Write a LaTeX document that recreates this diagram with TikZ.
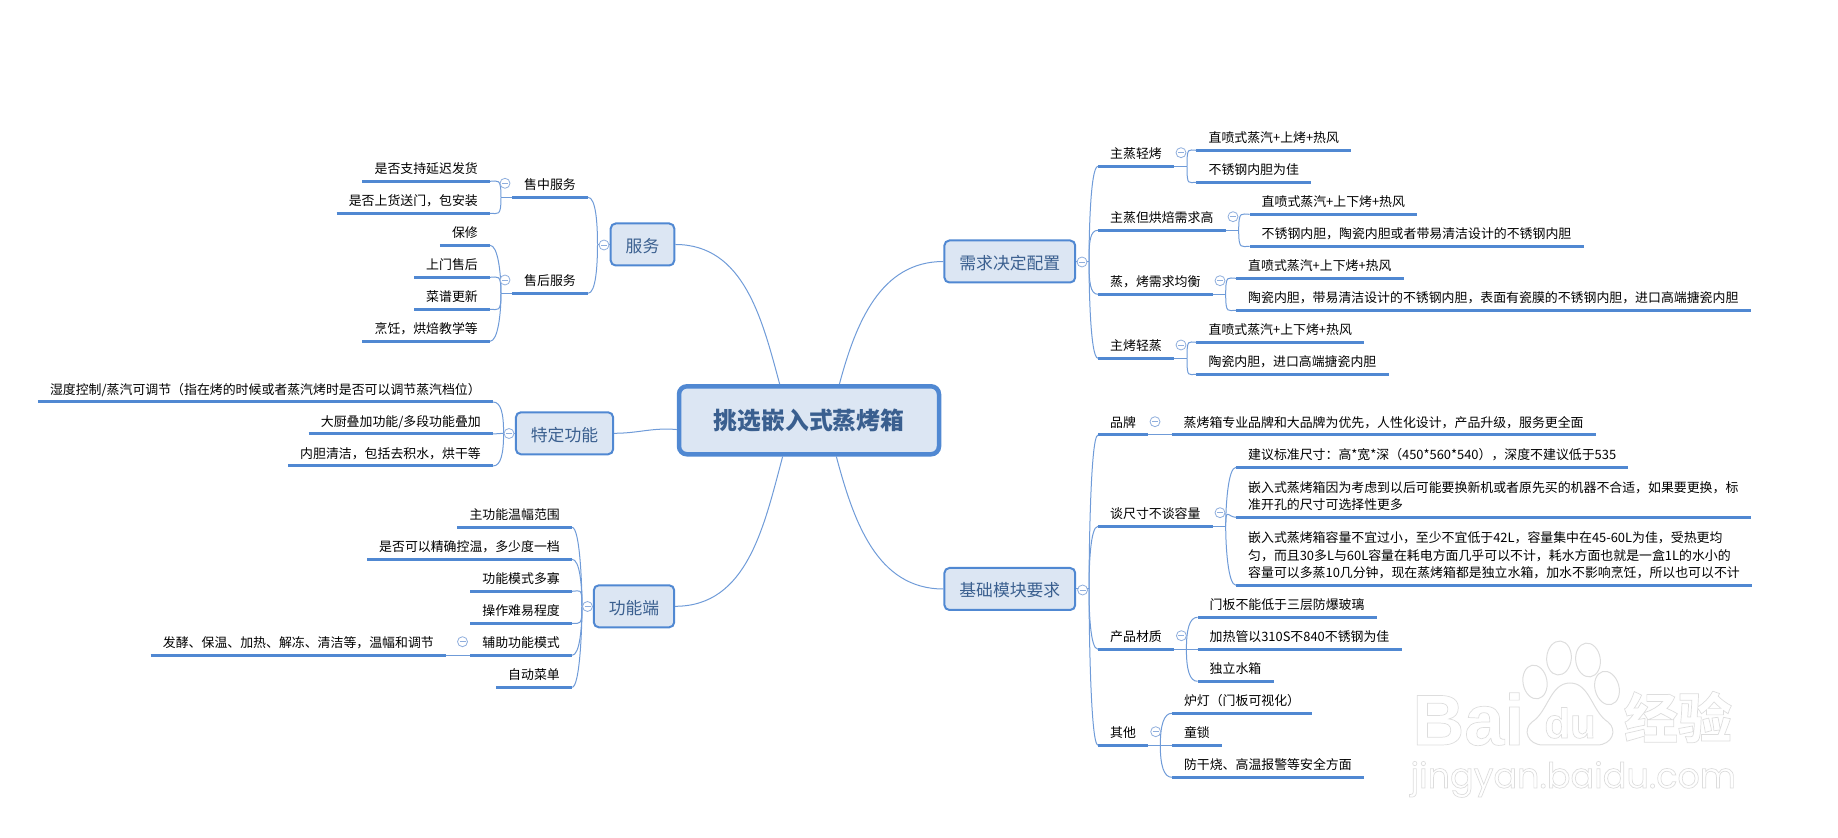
\documentclass[tikz,border=0pt]{standalone}
\usepackage{fontspec}
\setmainfont{Noto Sans CJK SC}
\newfontfamily\wmlatin{Liberation Sans}
\newfontfamily\wmround{Poppins}
\usepackage{xcolor}
\usepackage{tikz}
\definecolor{mapblue}{HTML}{5088D2}
\definecolor{maplink}{HTML}{6F9BD8}
\definecolor{mapfill}{HTML}{DCE6F3}
\definecolor{mapink}{HTML}{3A5F8F}
\definecolor{mapfold}{HTML}{8FAEDD}
\definecolor{mapwm}{HTML}{DDDDDD}

\begin{document}
\begin{tikzpicture}[x=0.5pt,y=0.5pt,
        under/.style={draw=mapblue,line width=1.5pt},
        topic/.style={font=\fontsize{6.45}{8.8}\selectfont,text=black,inner xsep=5.9pt,inner ysep=0.9pt,
            execute at begin node=\strut,
            append after command={(\tikzlastnode.south west) edge[under] (\tikzlastnode.south east)}},
        lft/.style={topic,anchor=south east},
        rgt/.style={topic,anchor=south west,align=left},
        bigbox/.style={draw=mapblue,line width=1pt,fill=mapfill,rounded corners=2.5pt,text=mapink,
            font=\fontsize{8.4}{10}\selectfont,minimum height=21pt,inner xsep=7.5pt,inner ysep=0pt,
            text height=9.2pt,text depth=1.3pt},
        fold/.style={circle,draw=mapfold,line width=0.4pt,fill=white,minimum size=5pt,inner sep=0pt,
            path picture={\draw[mapfold,line width=0.4pt] ([xshift=-1.5pt]path picture bounding box.center) -- ([xshift=1.5pt]path picture bounding box.center);}},
        link/.style={draw=maplink,line width=0.5pt},
        cul/.style={out=90,in=0,out distance=10pt,in distance=4pt},
        cdl/.style={out=-90,in=0,out distance=10pt,in distance=4pt},
        cur/.style={out=90,in=180,out distance=10pt,in distance=4pt},
        cdr/.style={out=-90,in=180,out distance=10pt,in distance=4pt},
        wm/.style={text=mapwm,inner sep=0pt,
            execute at begin node={\special{pdf:code 1 Tr 0.35 w}},
            execute at end node={\special{pdf:code 0 Tr}}}]
        \useasboundingbox (0,0) rectangle (1838,-838);

        \node[draw=mapblue,line width=2.25pt,fill=mapfill,rounded corners=4pt,text=mapink,
            font=\fontsize{11.9}{14}\bfseries\selectfont,minimum width=130pt,minimum height=34pt,
            text height=12pt,text depth=2.4pt] (main) at (809,-420.3) {挑选嵌入式蒸烤箱};

        \node[bigbox] (svc) at (642.5,-244.5) {服务};
        \node[bigbox] (spc) at (564.5,-433.3) {特定功能};
        \node[bigbox] (fun) at (634,-606.3) {功能端};
        \node[bigbox] (req) at (1009.8,-261.5) {需求决定配置};
        \node[bigbox] (bas) at (1009.8,-589) {基础模块要求};

        \node[lft] (sa) at (588,-197.3) {售中服务};
        \node[lft] (sa1) at (490,-181.3) {是否支持延迟发货};
        \node[lft] (sa2) at (490,-213.3) {是否上货送门，包安装};
        \node[lft] (sb) at (588,-293.3) {售后服务};
        \node[lft] (sb1) at (490,-245.3) {保修};
        \node[lft] (sb2) at (490,-277.3) {上门售后};
        \node[lft] (sb3) at (490,-309.3) {菜谱更新};
        \node[lft] (sb4) at (490,-341.3) {烹饪，烘焙教学等};

        \node[lft] (spc1) at (493,-402) {湿度控制/蒸汽可调节（指在烤的时候或者蒸汽烤时是否可以调节蒸汽档位）};
        \node[lft] (spc2) at (493,-434) {大厨叠加功能/多段功能叠加};
        \node[lft] (spc3) at (493,-466) {内胆清洁，包括去积水，烘干等};

        \node[lft] (fun1) at (572,-527.3) {主功能温幅范围};
        \node[lft] (fun2) at (572,-559.3) {是否可以精确控温，多少度一档};
        \node[lft] (fun3) at (572,-591.3) {功能模式多寡};
        \node[lft] (fun4) at (572,-623.3) {操作难易程度};
        \node[lft] (fun5) at (572,-655.3) {辅助功能模式};
        \node[lft] (fun6) at (572,-687.3) {自动菜单};
        \node[lft] (fun5a) at (446,-655.3) {发酵、保温、加热、解冻、清洁等，温幅和调节};

        \node[rgt] (ra) at (1098,-166.3) {主蒸轻烤};
        \node[rgt] (ra1) at (1196.4,-150.3) {直喷式蒸汽+上烤+热风};
        \node[rgt] (ra2) at (1196.4,-182.3) {不锈钢内胆为佳};
        \node[rgt] (rb) at (1098,-230.3) {主蒸但烘焙需求高};
        \node[rgt] (rb1) at (1249.5,-214.3) {直喷式蒸汽+上下烤+热风};
        \node[rgt] (rb2) at (1249.5,-246.3) {不锈钢内胆，陶瓷内胆或者带易清洁设计的不锈钢内胆};
        \node[rgt] (rc) at (1098,-294.3) {蒸，烤需求均衡};
        \node[rgt] (rc1) at (1236,-278.3) {直喷式蒸汽+上下烤+热风};
        \node[rgt] (rc2) at (1236,-310.3) {陶瓷内胆，带易清洁设计的不锈钢内胆，表面有瓷膜的不锈钢内胆，进口高端搪瓷内胆};
        \node[rgt] (rd) at (1098,-358.3) {主烤轻蒸};
        \node[rgt] (rd1) at (1196.4,-342.3) {直喷式蒸汽+上下烤+热风};
        \node[rgt] (rd2) at (1196.4,-374.3) {陶瓷内胆，进口高端搪瓷内胆};

        \node[rgt] (ba) at (1098,-435) {品牌};
        \node[rgt] (ba1) at (1171.5,-435) {蒸烤箱专业品牌和大品牌为优先，人性化设计，产品升级，服务更全面};
        \node[rgt] (bb) at (1098,-526.3) {谈尺寸不谈容量};
        \node[rgt] (bb1) at (1236,-467.3) {建议标准尺寸：高*宽*深（450*560*540），深度不建议低于535};
        \node[rgt] (bb2) at (1236,-517.3) {嵌入式蒸烤箱因为考虑到以后可能要换新机或者原先买的机器不合适，如果要更换，标\\\strut 准开孔的尺寸可选择性更多};
        \node[rgt] (bb3) at (1236,-585.3) {嵌入式蒸烤箱容量不宜过小，至少不宜低于42L，容量集中在45-60L为佳，受热更均\\\strut 匀，而且30多L与60L容量在耗电方面几乎可以不计，耗水方面也就是一盒1L的水小的\\\strut 容量可以多蒸10几分钟，现在蒸烤箱都是独立水箱，加水不影响烹饪，所以也可以不计};
        \node[rgt] (bc) at (1098,-649.3) {产品材质};
        \node[rgt] (bc1) at (1197.5,-617.3) {门板不能低于三层防爆玻璃};
        \node[rgt] (bc2) at (1197.5,-649.3) {加热管以310S不840不锈钢为佳};
        \node[rgt] (bc3) at (1197.5,-681.3) {独立水箱};
        \node[rgt] (bd) at (1098,-745.3) {其他};
        \node[rgt] (bd1) at (1171.8,-713.3) {炉灯（门板可视化）};
        \node[rgt] (bd2) at (1171.8,-745.3) {童锁};
        \node[rgt] (bd3) at (1171.8,-777.3) {防干烧、高温报警等安全方面};

        \coordinate (jsvc) at (597.5,-244.5);
        \coordinate (jsa) at (501,-197.3);
        \coordinate (jsb) at (501,-293.3);
        \coordinate (jspc) at (503.6,-433.3);
        \coordinate (jfun) at (582,-606.3);
        \coordinate (jreq) at (1089,-261.5);
        \coordinate (jra) at (1187,-166.3);
        \coordinate (jrb) at (1238.7,-230.3);
        \coordinate (jrc) at (1225.7,-294.3);
        \coordinate (jrd) at (1187,-358.3);
        \coordinate (jbas) at (1089,-589);
        \coordinate (jbb) at (1225.7,-526.3);
        \coordinate (jbc) at (1186.4,-649.3);
        \coordinate (jbd) at (1160.3,-745.3);

        \draw[link] (svc.east) to[out=0,in=105] (main.129);
        \draw[link] (spc.east) to[out=0,in=175] (main.184);
        \draw[link] (fun.east) to[out=0,in=-105] (main.234);
        \draw[link] (main.50) to[out=75,in=180] (req.west);
        \draw[link] (main.307) to[out=-75,in=180] (bas.west);

        \draw[link] (svc.west) -- (jsvc);
        \draw[link] (jsvc) to[cul] (sa.south east);
        \draw[link] (jsvc) to[cdl] (sb.south east);
        \draw[link] (sa.south west) -- (jsa);
        \draw[link] (jsa) to[cul] (sa1.south east);
        \draw[link] (jsa) to[cdl] (sa2.south east);
        \draw[link] (sb.south west) -- (jsb);
        \draw[link] (jsb) to[cul] (sb1.south east);
        \draw[link] (jsb) to[cul] (sb2.south east);
        \draw[link] (jsb) to[cdl] (sb3.south east);
        \draw[link] (jsb) to[cdl] (sb4.south east);

        \draw[link] (spc.west) -- (jspc);
        \draw[link] (jspc) to[cul] (spc1.south east);
        \draw[link] (jspc) -- (spc2.south east);
        \draw[link] (jspc) to[cdl] (spc3.south east);

        \draw[link] (fun.west) -- (jfun);
        \draw[link] (jfun) to[cul] (fun1.south east);
        \draw[link] (jfun) to[cul] (fun2.south east);
        \draw[link] (jfun) to[cul] (fun3.south east);
        \draw[link] (jfun) to[cdl] (fun4.south east);
        \draw[link] (jfun) to[cdl] (fun5.south east);
        \draw[link] (jfun) to[cdl] (fun6.south east);
        \draw[link] (fun5.south west) -- (fun5a.south east);

        \draw[link] (req.east) -- (jreq);
        \draw[link] (jreq) to[cur] (ra.south west);
        \draw[link] (jreq) to[cur] (rb.south west);
        \draw[link] (jreq) to[cdr] (rc.south west);
        \draw[link] (jreq) to[cdr] (rd.south west);
        \draw[link] (ra.south east) -- (jra);
        \draw[link] (jra) to[cur] (ra1.south west);
        \draw[link] (jra) to[cdr] (ra2.south west);
        \draw[link] (rb.south east) -- (jrb);
        \draw[link] (jrb) to[cur] (rb1.south west);
        \draw[link] (jrb) to[cdr] (rb2.south west);
        \draw[link] (rc.south east) -- (jrc);
        \draw[link] (jrc) to[cur] (rc1.south west);
        \draw[link] (jrc) to[cdr] (rc2.south west);
        \draw[link] (rd.south east) -- (jrd);
        \draw[link] (jrd) to[cur] (rd1.south west);
        \draw[link] (jrd) to[cdr] (rd2.south west);

        \draw[link] (bas.east) -- (jbas);
        \draw[link] (jbas) to[cur] (ba.south west);
        \draw[link] (jbas) to[cur] (bb.south west);
        \draw[link] (jbas) to[cdr] (bc.south west);
        \draw[link] (jbas) to[cdr] (bd.south west);
        \draw[link] (ba.south east) -- (ba1.south west);
        \draw[link] (bb.south east) -- (jbb);
        \draw[link] (jbb) to[cur] (bb1.south west);
        \draw[link] (jbb) to[cur] (bb2.south west);
        \draw[link] (jbb) to[cdr] (bb3.south west);
        \draw[link] (bc.south east) -- (jbc);
        \draw[link] (jbc) to[cur] (bc1.south west);
        \draw[link] (jbc) -- (bc2.south west);
        \draw[link] (jbc) to[cdr] (bc3.south west);
        \draw[link] (bd.south east) -- (jbd);
        \draw[link] (jbd) to[cur] (bd1.south west);
        \draw[link] (jbd) -- (bd2.south west);
        \draw[link] (jbd) to[cdr] (bd3.south west);

        \node[fold] (fsvc) at (604,-245) {};
        \node[fold] (fsa) at (505,-183.3) {};
        \node[fold] (fsb) at (505,-280) {};
        \node[fold] (fspc) at (509,-433.5) {};
        \node[fold] (ffun) at (587.5,-606.5) {};
        \node[fold] (ffa) at (462.5,-641.7) {};
        \node[fold] (freq) at (1082,-262) {};
        \node[fold] (fra) at (1181,-152.7) {};
        \node[fold] (frb) at (1233,-216.7) {};
        \node[fold] (frc) at (1220,-280.7) {};
        \node[fold] (frd) at (1181,-345) {};
        \node[fold] (fbas) at (1082.6,-590) {};
        \node[fold] (fba) at (1155,-421.7) {};
        \node[fold] (fbb) at (1220,-512.7) {};
        \node[fold] (fbc) at (1181.4,-635.7) {};
        \node[fold] (fbd) at (1155.7,-731.7) {};

        \node[wm,font=\wmlatin\bfseries\fontsize{36}{36}\selectfont,anchor=base west] (wma) at (1412,-745) {Bai};
        \node[wm,font=\wmlatin\bfseries\fontsize{21}{21}\selectfont,anchor=base west] (wmb) at (1544,-738) {du};
        \node[wm,font=\bfseries\fontsize{27}{27}\selectfont,anchor=center] (wmc) at (1678,-717) {经验};
        \node[wm,font=\wmround\fontsize{17.5}{18}\selectfont,anchor=base west] (wmd) at (1410,-788) {jingyan.baidu.com};
        \draw[mapwm,line width=0.5pt,rotate around={-5:(1559,-658)}] (1559,-658) ellipse (12.3 and 17);
        \draw[mapwm,line width=0.5pt,rotate around={8:(1588,-660)}] (1588,-660) ellipse (12.3 and 17);
        \draw[mapwm,line width=0.5pt,rotate around={10:(1535,-682)}] (1535,-682) ellipse (12 and 17);
        \draw[mapwm,line width=0.5pt,rotate around={15:(1607,-688)}] (1607,-688) ellipse (12 and 17);
        \draw[mapwm,line width=0.5pt] (1570,-683) .. controls (1590,-683) and (1592,-712) .. (1608,-722) .. controls (1618,-730) and (1612,-745) .. (1597,-745) -- (1543,-745) .. controls (1528,-745) and (1522,-730) .. (1532,-722) .. controls (1548,-712) and (1550,-683) .. (1570,-683);
    \end{tikzpicture}
\end{document}
